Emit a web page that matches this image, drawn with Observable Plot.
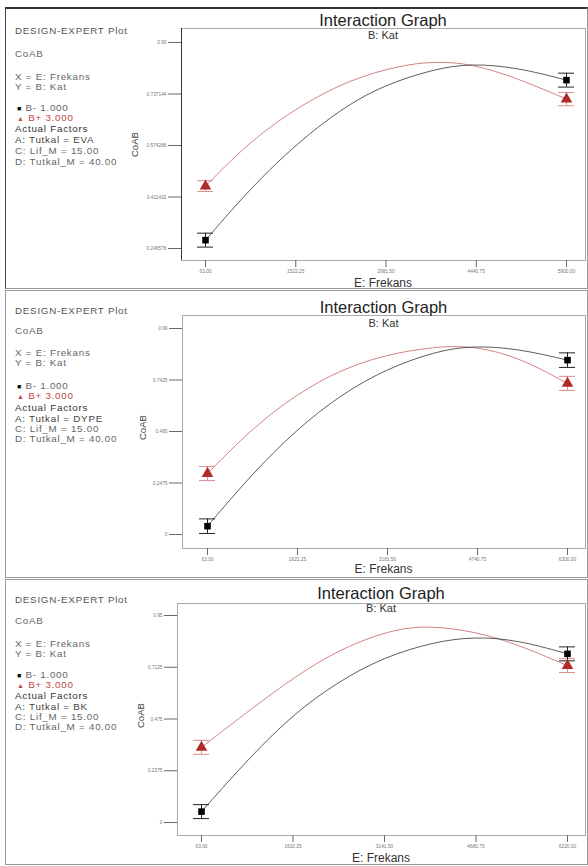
<!DOCTYPE html>
<html><head><meta charset="utf-8">
<script src="https://cdn.jsdelivr.net/npm/d3@7"></script>
<script src="https://cdn.jsdelivr.net/npm/@observablehq/plot@0.6"></script>
<style>
body{margin:0;background:#fff;font-family:"Liberation Sans",Arial,sans-serif;}
#wrap{position:relative;width:588px;height:866px;overflow:hidden;background:#fff;}
.t{position:absolute;white-space:nowrap;}
.panel{position:absolute;box-sizing:border-box;}
svg{position:absolute;left:0;overflow:visible;}
</style></head>
<body><div id="wrap"></div>
<script>
// ---------- data ----------
const tutkal = ["EVA", "DYPE", "BK"];
const legendLabels = ["B- 1.000", "B+ 3.000"];

const xTicks1 = [63, 1522.25, 2981.5, 4440.75, 5900];
const xLabels1 = ["63.00", "1522.25", "2981.50", "4440.75", "5900.00"];
const yTicks1 = [0.248576, 0.411432, 0.574288, 0.737144, 0.90];
const yLabels1 = ["0.248576", "0.411432", "0.574288", "0.737144", "0.90"];
const blackX1 = [63, 1061, 2167, 2949, 3758, 4352, 5107, 5900];
const blackY1 = [0.275, 0.500, 0.682, 0.766, 0.816, 0.834, 0.821, 0.781];
const redX1 = [63, 791, 1600, 2410, 3219, 3758, 4352, 5107, 5900];
const redY1 = [0.446, 0.590, 0.702, 0.784, 0.828, 0.840, 0.834, 0.787, 0.721];
const barHalf1 = [0.022, 0.022, 0.017, 0.021];

const xTicks2 = [63, 1622.25, 3181.5, 4740.75, 6300];
const xLabels2 = ["63.00", "1622.25", "3181.50", "4740.75", "6300.00"];
const yTicks2 = [0, 0.2475, 0.495, 0.7425, 0.99];
const yLabels2 = ["0", "0.2475", "0.495", "0.7425", "0.99"];
const blackX2 = [63, 814, 1605, 2373, 3153, 3990, 4625, 5434, 6300];
const blackY2 = [0.040, 0.285, 0.505, 0.672, 0.795, 0.878, 0.908, 0.894, 0.838];
const redX2 = [63, 814, 1605, 2373, 3153, 3990, 4625, 5434, 6300];
const redY2 = [0.293, 0.505, 0.675, 0.792, 0.865, 0.902, 0.908, 0.856, 0.726];
const barHalf2 = [0.035, 0.035, 0.034, 0.034];

const xTicks3 = [63, 1602.25, 3141.5, 4680.75, 6220];
const xLabels3 = ["63.00", "1602.25", "3141.50", "4680.75", "6220.00"];
const yTicks3 = [0, 0.2375, 0.475, 0.7125, 0.95];
const yLabels3 = ["0", "0.2375", "0.475", "0.7125", "0.95"];
const blackX3 = [63, 893, 1622, 2351, 3136, 3977, 4650, 5379, 6220];
const blackY3 = [0.050, 0.305, 0.500, 0.645, 0.760, 0.829, 0.853, 0.838, 0.774];
const redX3 = [63, 893, 1622, 2351, 3136, 3800, 4650, 5379, 6220];
const redY3 = [0.345, 0.520, 0.667, 0.790, 0.875, 0.907, 0.878, 0.818, 0.720];
const barHalf3 = [0.032, 0.032, 0.032, 0.032];

// ---------- layout ----------
const layouts = [
  {top: 0, h: 289, ml: 181, mt: 28, mb: 29, xr: [205, 566], yr: [248, 42],
   textBase: 7, textOff: [23, 46, 69, 79, 100, 110, 121, 132, 143, 154],
   title: 20, sub: 35, xlab: 283, ylabX: 135, ylabY: 145, leftDark: true,
   box: {top: 7, h: 282}},
  {top: 290, h: 288, ml: 182, mt: 25, mb: 30, xr: [207, 567], yr: [244, 38],
   textBase: 290, textOff: [20, 40, 62, 72, 95, 105, 117, 128, 138, 148],
   title: 307, sub: 323, xlab: 569, ylabX: 143, ylabY: 428, leftDark: false,
   box: {top: 290, h: 288}},
  {top: 578, h: 288, ml: 177, mt: 25, mb: 31, xr: [201, 567], yr: [244, 37],
   textBase: 580, textOff: [19, 40, 63, 73, 94, 104, 115, 126, 136, 146],
   title: 593, sub: 608, xlab: 858, ylabX: 141, ylabY: 716, leftDark: false,
   box: {top: 579, h: 286}}
];

const panels = [
  {xt: xTicks1, xl: xLabels1, yt: yTicks1, yl: yLabels1, bx: blackX1, by: blackY1, rx: redX1, ry: redY1, bh: barHalf1},
  {xt: xTicks2, xl: xLabels2, yt: yTicks2, yl: yLabels2, bx: blackX2, by: blackY2, rx: redX2, ry: redY2, bh: barHalf2},
  {xt: xTicks3, xl: xLabels3, yt: yTicks3, yl: yLabels3, bx: blackX3, by: blackY3, rx: redX3, ry: redY3, bh: barHalf3}
];

const wrap = document.getElementById("wrap");
function addText(txt, x, yc, style, lh) {
  lh = lh || 12;
  const d = document.createElement("div");
  d.className = "t";
  d.style.left = x + "px";
  d.style.top = (yc - lh / 2) + "px";
  d.style.lineHeight = lh + "px";
  Object.assign(d.style, style || {});
  d.innerHTML = txt;
  wrap.appendChild(d);
  return d;
}
function addCentered(txt, xc, yc, style, lh) {
  const d = addText(txt, xc - 150, yc, style, lh);
  d.style.width = "300px"; d.style.textAlign = "center";
  return d;
}

const RED = "#b02a2a";
const RED_LINE = "#c86464";
const GRAY = "#666";

panels.forEach((p, k) => {
  const L = layouts[k];
  const b = document.createElement("div");
  b.className = "panel";
  Object.assign(b.style, {left: "5px", top: L.box.top + "px", width: "583px", height: L.box.h + "px",
    border: "1px solid #999", borderTop: k === 0 ? "2px solid #333" : "1px solid #999",
    borderLeft: k === 0 ? "1.5px solid #444" : "1px solid #999"});
  wrap.appendChild(b);

  const blackLine = p.bx.map((x, i) => ({x, y: p.by[i]}));
  const redLine = p.rx.map((x, i) => ({x, y: p.ry[i]}));
  const blackPts = [
    {x: p.bx[0], y: p.by[0], h: p.bh[0]},
    {x: p.bx[p.bx.length - 1], y: p.by[p.by.length - 1], h: p.bh[1]}
  ].map(d => ({...d, lo: d.y - d.h, hi: d.y + d.h}));
  const redPts = [
    {x: p.rx[0], y: p.ry[0], h: p.bh[2]},
    {x: p.rx[p.rx.length - 1], y: p.ry[p.ry.length - 1], h: p.bh[3]}
  ].map(d => ({...d, lo: d.y - d.h, hi: d.y + d.h}));

  const fmt = (ticks, labels) => d => labels[ticks.findIndex(t => Math.abs(t - d) < 1e-9)];

  const chart = Plot.plot({
    width: 588, height: L.h,
    marginLeft: L.ml, marginRight: 3, marginTop: L.mt, marginBottom: L.mb,
    style: {background: "transparent", fontFamily: "Liberation Sans, Arial, sans-serif", overflow: "visible"},
    x: {domain: [p.xt[0], p.xt[4]], range: L.xr},
    y: {domain: [p.yt[0], p.yt[4]], range: L.yr},
    marks: [
      Plot.frame({stroke: "#aaa", strokeWidth: 1}),
      Plot.axisX({ticks: p.xt, tickFormat: fmt(p.xt, p.xl), tickSize: 7, tickPadding: 2,
        fontSize: 4.8, label: null, stroke: "#666", fill: "#777"}),
      Plot.axisY({ticks: p.yt, tickFormat: fmt(p.yt, p.yl), tickSize: 13, tickPadding: 2,
        fontSize: 4.8, label: null, stroke: "#666", fill: "#777"}),
      Plot.line(redLine, {x: "x", y: "y", stroke: RED_LINE, strokeWidth: 0.8, curve: "basis"}),
      Plot.line(blackLine, {x: "x", y: "y", stroke: "#333", strokeWidth: 0.8, curve: "basis"}),
      Plot.ruleX(redPts, {x: "x", y1: "lo", y2: "hi", stroke: "#d07070", strokeWidth: 0.8}),
      Plot.ruleY(redPts, {x1: "x", x2: "x", y: "lo", insetLeft: -8, insetRight: -8, stroke: "#d07070", strokeWidth: 0.8}),
      Plot.ruleY(redPts, {x1: "x", x2: "x", y: "hi", insetLeft: -8, insetRight: -8, stroke: "#d07070", strokeWidth: 0.8}),
      Plot.ruleX(blackPts, {x: "x", y1: "lo", y2: "hi", stroke: "#222", strokeWidth: 1}),
      Plot.ruleY(blackPts, {x1: "x", x2: "x", y: "lo", insetLeft: -8, insetRight: -8, stroke: "#222", strokeWidth: 1}),
      Plot.ruleY(blackPts, {x1: "x", x2: "x", y: "hi", insetLeft: -8, insetRight: -8, stroke: "#222", strokeWidth: 1}),
      Plot.dot(redPts, {x: "x", y: "y", symbol: "triangle", r: 4.3, fill: RED, stroke: "none"}),
      Plot.dot(blackPts, {x: "x", y: "y", symbol: "square", r: 3.7, fill: "#000", stroke: "none"})
    ]
  });
  chart.style.top = L.top + "px";
  wrap.appendChild(chart);

  if (L.leftDark) {
    const ax = document.createElement("div");
    Object.assign(ax.style, {position: "absolute", left: (L.ml - 0.5) + "px", top: (L.top + L.mt) + "px",
      width: "1.2px", height: (L.h - L.mt - L.mb) + "px", background: "#333"});
    wrap.appendChild(ax);
  }

  const cx = (L.ml + 585) / 2;
  addCentered("Interaction Graph", cx, L.title, {fontSize: "16.5px", color: "#222"}, 15);
  addCentered("B: Kat", cx, L.sub, {fontSize: "11px", color: "#333"}, 10);
  addCentered("E: Frekans", cx, L.xlab, {fontSize: "12px", color: "#333"}, 11);
  addText("CoAB", L.ylabX - 12, L.ylabY, {fontSize: "9.5px", color: "#444", transform: "rotate(-90deg)", width: "24px", textAlign: "center"}, 10);

  const lines = [
    ["DESIGN-EXPERT Plot", {color: "#555"}],
    ["CoAB", {color: GRAY}],
    ["X = E: Frekans", {color: GRAY}],
    ["Y = B: Kat", {color: GRAY}],
    ["<span style='font-size:7px;color:#111'>&#9632;</span> " + legendLabels[0], {color: GRAY}],
    ["<span style='font-size:7px'>&#9650;</span> " + legendLabels[1], {color: "#c04848"}],
    ["Actual Factors", {color: "#333"}],
    ["A: Tutkal = " + tutkal[k], {color: "#444"}],
    ["C: Lif_M = 15.00", {color: GRAY}],
    ["D: Tutkal_M = 40.00", {color: GRAY}]
  ];
  lines.forEach((ln, i) => {
    const x = (i === 4 || i === 5) ? 17 : 15;
    addText(ln[0], x, L.textBase + L.textOff[i], Object.assign({fontSize: "9.8px", letterSpacing: "0.75px"}, ln[1]), 9);
  });
});
</script>
</body></html>
